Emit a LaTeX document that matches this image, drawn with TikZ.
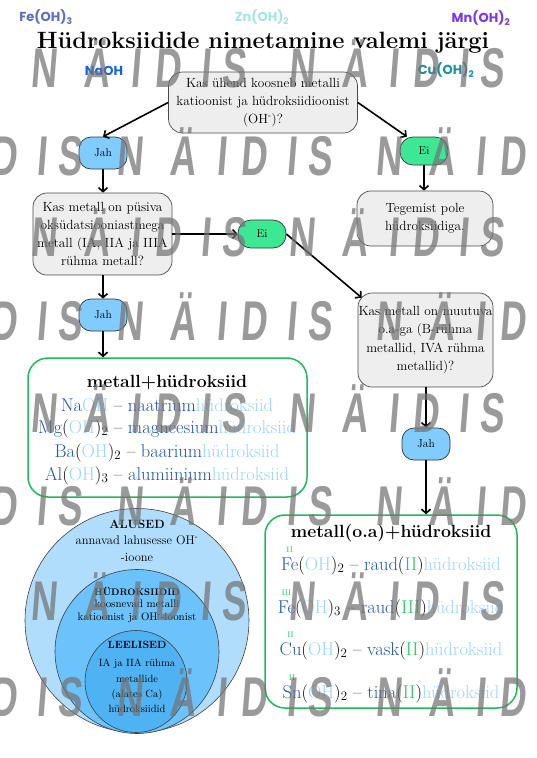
\documentclass[tikz,border=0pt]{standalone}
\usepackage{fontspec}
\newfontfamily\wmfont{Liberation Sans}[FakeStretch=0.65,FakeSlant=0.08]
\newfontfamily\decofont{Poppins}
\usetikzlibrary{arrows.meta,calc}
\definecolor{qfill}{HTML}{EEEEEE}
\definecolor{qdraw}{HTML}{4A4A4A}
\definecolor{jahfill}{HTML}{80CCFF}
\definecolor{eifill}{HTML}{3DE895}
\definecolor{gboxc}{HTML}{1FBA5A}
\definecolor{dblue}{HTML}{1F55B5}
\definecolor{lblue}{HTML}{99D5FF}
\definecolor{ogreen}{HTML}{22C560}
\definecolor{cone}{HTML}{B0DDFC}
\definecolor{ctwo}{HTML}{6CC2FA}
\definecolor{cthree}{HTML}{4FB3F3}
\definecolor{wmgray}{HTML}{747474}
\definecolor{fecol}{HTML}{5B6CC4}
\definecolor{zncol}{HTML}{A3E6E2}
\definecolor{mncol}{HTML}{7A35EE}
\definecolor{nacol}{HTML}{1462E6}
\definecolor{cucol}{HTML}{1A90A6}
\newcommand\hdb[1]{\textcolor{dblue}{#1}}
\newcommand\hlb[1]{\textcolor{lblue}{#1}}
\newcommand\hgn[1]{\textcolor{ogreen}{#1}}
\newcommand\oxsym[2]{\setbox0\hbox{#2}\hbox to \wd0{\hss\raisebox{18pt}[0pt][0pt]{\textcolor{ogreen}{\fontsize{8}{8}\selectfont #1}}\hss}\kern-\wd0\box0}
\tikzset{
  qbox/.style={draw=qdraw, fill=qfill, rounded corners=14pt, line width=0.7pt, align=center,
    font=\fontsize{13.3}{18.2}\selectfont, inner sep=0pt},
  jahbox/.style={draw=black!80, fill=jahfill, rounded corners=12pt, line width=0.7pt,
    minimum width=48pt, minimum height=32pt, inner sep=0pt, font=\fontsize{11.5}{12}\selectfont},
  eibox/.style={draw=black!80, fill=eifill, rounded corners=13pt, line width=0.7pt,
    minimum width=48pt, minimum height=28pt, inner sep=0pt, font=\fontsize{11.5}{12}\selectfont},
  arr/.style={-{Straight Barb[length=4pt,width=9pt]}, line width=1.6pt},
  greenbox/.style={draw=gboxc, line width=1.5pt, rounded corners=20pt, fill=white, inner sep=0pt},
  gline/.style={anchor=base, inner sep=0pt, font=\fontsize{18.5}{20}\selectfont},
  gtitle/.style={anchor=base, inner sep=0pt, font=\bfseries\fontsize{17.6}{20}\selectfont},
  vennc/.style={circle, draw=black!75, line width=0.6pt, inner sep=0pt},
  vt/.style={inner sep=0pt},
  deco/.style={inner sep=0pt, font=\decofont\bfseries\fontsize{13}{13}\selectfont},
  wm/.style={text=wmgray, text opacity=0.72, anchor=base, inner sep=0pt,
    font=\wmfont\bfseries\fontsize{56}{56}\selectfont}
}
\begin{document}
\begin{tikzpicture}[x=1pt,y=-1pt]
\useasboundingbox (0,0) rectangle (536,758);
\fill[white] (0,0) rectangle (536,758);

% decorative formulas
\node[deco, text=fecol] (fe) at (46,17) {Fe(OH)\textsubscript{3}};
\node[deco, text=zncol] (zn) at (262,17) {Zn(OH)\textsubscript{2}};
\node[deco, text=mncol] (mn) at (481,18) {Mn(OH)\textsubscript{2}};
\node[deco, text=nacol] (na) at (104,71) {NaOH};
\node[deco, text=cucol] (cu) at (446,70) {Cu(OH)\textsubscript{2}};

% title
\node[anchor=base, inner sep=0pt, font=\bfseries\fontsize{23.6}{26}\selectfont] (title) at (263,48) {Hüdroksiidide nimetamine valemi järgi};

% question boxes
\node[qbox, minimum width=189pt, minimum height=61pt] (q1) at (263,102.5)
  {Kas ühend koosneb metalli\\katioonist ja hüdroksiidioonist\\(OH\textsuperscript{-})?};
\node[jahbox] (jah1) at (103,153) {Jah};
\node[eibox] (ei1) at (424,151) {Ei};
\node[qbox, minimum width=139pt, minimum height=82pt] (q2) at (102.5,234)
  {Kas metall on püsiva\\oksüdatsiooniastmega\\metall (IA, IIA ja IIIA\\rühma metall?};
\node[eibox] (ei2) at (262,234) {Ei};
\node[qbox, minimum width=136pt, minimum height=55pt] (teg) at (425,218.5)
  {Tegemist pole\\hüdroksiidiga.};
\node[qbox, minimum width=135pt, minimum height=94pt] (q4) at (425.5,340)
  {Kas metall on muutuva\\o.a-ga (B-rühma\\metallid, IVA rühma\\metallid)?};
\node[jahbox] (jah2) at (103,315) {Jah};
\node[jahbox] (jah3) at (426,444) {Jah};

% green boxes
\node[greenbox, minimum width=279pt, minimum height=139pt] (g1) at (167.5,427.5) {};
\node[greenbox, minimum width=252pt, minimum height=193pt] (g2) at (391,611.5) {};

% arrows
\draw[arr] (q1.west) -- (jah1.north);
\draw[arr] (q1.east) -- (ei1.140);
\draw[arr] (jah1.south) -- (jah1.south |- q2.north);
\draw[arr] (ei1.south) -- (ei1.south |- teg.north);
\draw[arr] (q2.east) -- (ei2.west);
\draw[arr] (ei2.east) -- ($(q4.north west)+(4,5)$);
\draw[arr] (q2.south -| jah2.north) -- (jah2.north);
\draw[arr] (jah2.south) -- (jah2.south |- g1.north);
\draw[arr] (jah3.north |- q4.south) -- (jah3.north);
\draw[arr] (jah3.south) -- (jah3.south |- g2.north);

% green box 1 content
\node[gtitle] (g1t) at (167,387) {metall+hüdroksiid};
\node[gline] (g1a) at (167,411) {\hdb{Na}\hlb{OH} -- \hdb{naatrium}\hlb{hüdroksiid}};
\node[gline] (g1b) at (167,433) {\hdb{Mg}(\hlb{OH})\textsubscript{2} -- \hdb{magneesium}\hlb{hüdroksiid}};
\node[gline] (g1c) at (167,457) {\hdb{Ba}(\hlb{OH})\textsubscript{2} -- \hdb{baarium}\hlb{hüdroksiid}};
\node[gline] (g1d) at (167,480) {\hdb{Al}(\hlb{OH})\textsubscript{3} -- \hdb{alumiinium}\hlb{hüdroksiid}};

% green box 2 content
\node[gtitle] (g2t) at (391,537) {metall(o.a)+hüdroksiid};
\node[gline] (g2a) at (391,570) {\oxsym{II}{\hdb{Fe}}(\hlb{OH})\textsubscript{2} -- \hdb{raud}(\hgn{II})\hlb{hüdroksiid}};
\node[gline] (g2b) at (391,613) {\oxsym{III}{\hdb{Fe}}(\hlb{OH})\textsubscript{3} -- \hdb{raud}(\hgn{III})\hlb{hüdroksiid}};
\node[gline] (g2c) at (391,655) {\oxsym{II}{\hdb{Cu}}(\hlb{OH})\textsubscript{2} -- \hdb{vask}(\hgn{II})\hlb{hüdroksiid}};
\node[gline] (g2d) at (391,698) {\oxsym{II}{\hdb{Sn}}(\hlb{OH})\textsubscript{2} -- \hdb{tina}(\hgn{II})\hlb{hüdroksiid}};

% Venn circles
\node[vennc, fill=cone, minimum size=224pt] (c1) at (137,620.5) {};
\node[vennc, fill=ctwo, minimum size=164pt] (c2) at (137,651.5) {};
\node[vennc, fill=cthree, minimum size=102pt] (c3) at (136,681.5) {};
\node[vt, font=\bfseries\fontsize{12}{12}\selectfont] (t1) at (137,524) {ALUSED};
\node[vt, font=\fontsize{12.5}{13}\selectfont] (t2) at (137,540) {annavad lahusesse OH\textsuperscript{-}};
\node[vt, font=\fontsize{12.5}{13}\selectfont] (t3) at (137,557) {-ioone};
\node[vt, font=\bfseries\fontsize{9.5}{10}\selectfont] (t4) at (137,591) {HÜDROKSIIDID};
\node[vt, font=\fontsize{10.9}{12}\selectfont] (t5) at (137,604) {koosnevad metalli};
\node[vt, font=\fontsize{10.9}{12}\selectfont] (t6) at (137,618) {katioonist ja OH\textsuperscript{-}-ioonist};
\node[vt, font=\bfseries\fontsize{10.5}{11}\selectfont] (t7) at (137,645) {LEELISED};
\node[vt, font=\fontsize{10.5}{12}\selectfont] (t8) at (137,664) {IA ja IIA rühma};
\node[vt, font=\fontsize{10.5}{12}\selectfont] (t9) at (137,679) {metallide};
\node[vt, font=\fontsize{10.5}{12}\selectfont] (t10) at (137,695) {(alates Ca)};
\node[vt, font=\fontsize{10.5}{12}\selectfont] (t11) at (137,709) {hüdroksiidid};

% watermark
\begin{scope}
\clip (0,0) rectangle (536,758);
\foreach \ry in {87,256,432,620} {
  \foreach \wx in {44,302} {
    \foreach \L/\dx in {N/0,Ä/53,I/92,D/124,I/162,S/190}
      \node[wm] (w-\ry-\wx-\dx) at ({\wx+\dx},\ry) {\L};
  }
}
\foreach \ry in {175,340,525,716} {
  \foreach \wx in {-120,130,389} {
    \foreach \L/\dx in {N/0,Ä/53,I/92,D/124,I/162,S/190}
      \node[wm] (v-\ry-\wx-\dx) at ({\wx+\dx},\ry) {\L};
  }
}
\end{scope}
\end{tikzpicture}
\end{document}
